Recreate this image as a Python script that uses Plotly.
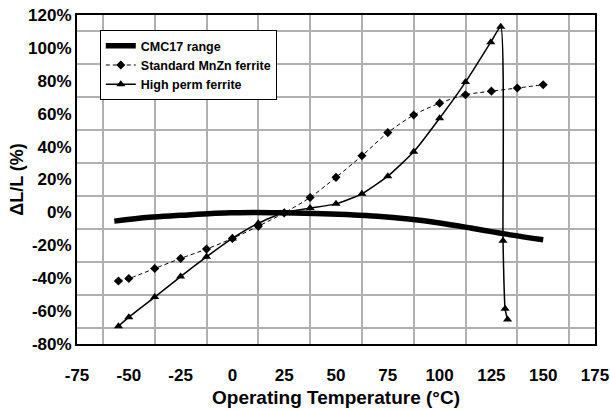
import plotly.graph_objects as go

# CMC17 range
cmc_t = [-57, -40, -25, -10, 0, 10, 25, 40, 55, 70, 85, 100, 115, 125, 135, 150]
cmc_v = [-5.3, -3.0, -1.8, -0.6, -0.2, 0.0, -0.2, -0.6, -1.3, -2.3, -4.0, -6.4, -9.5, -11.7, -13.8, -16.6]

# Standard MnZn ferrite
std_t = [-55, -50, -37.5, -25, -12.5, 0, 12.5, 25, 37.5, 50, 62.5, 75, 87.5, 100, 112.5, 125, 137.5, 150]
std_v = [-41.7, -40.2, -34.1, -28.0, -22.3, -15.8, -8.4, -0.3, 9.1, 21.3, 34.4, 48.5, 59.2, 66.4, 71.5, 73.7, 75.6, 77.6]

# High perm ferrite
hp_t = [-55, -50, -37.5, -25, -12.5, 0, 12.5, 25, 37.5, 50, 62.5, 75, 87.5, 100, 112.5, 124.7, 129.5, 130.6, 131.6, 132.8]
hp_v = [-69.2, -63.7, -51.5, -39.0, -27.0, -15.8, -6.6, 0.0, 2.6, 5.2, 11.3, 22.0, 36.8, 57.2, 79.2, 103.5, 112.9, -17.2, -58.6, -65.1]

x_ticks = [-75, -50, -25, 0, 25, 50, 75, 100, 125, 150, 175]
y_ticks = [-80, -60, -40, -20, 0, 20, 40, 60, 80, 100, 120]

FONT = "Liberation Sans, Arial, sans-serif"

fig = go.Figure()
fig.add_trace(go.Scatter(
    x=cmc_t, y=cmc_v, name="CMC17 range", mode="lines",
    line=dict(color="black", width=5.5, shape="spline", smoothing=1.0),
))
fig.add_trace(go.Scatter(
    x=std_t, y=std_v, name="Standard MnZn ferrite", mode="lines+markers",
    line=dict(color="black", width=1, dash="4px,3px", shape="spline", smoothing=0.8),
    marker=dict(symbol="diamond", size=7, color="black"),
))
fig.add_trace(go.Scatter(
    x=hp_t, y=hp_v, name="High perm ferrite", mode="lines+markers",
    line=dict(color="black", width=1.5, shape="spline", smoothing=0.5),
    marker=dict(symbol="triangle-up", size=8, color="black"),
))

grid_color = "#b0b0b0"
fig.update_xaxes(
    range=[-75, 175], tickvals=x_ticks, ticktext=[str(v) for v in x_ticks],
    showgrid=False, zeroline=False, automargin=False,
    showline=True, linecolor="black", linewidth=2, mirror=True,
    ticks="", ticklabelstandoff=15, ticklabeloverflow="allow",
    tickfont=dict(family=FONT, size=17, color="black", weight="bold"),
    minor=dict(tick0=-62.5, dtick=25, showgrid=True, gridcolor=grid_color, gridwidth=1.5, ticks=""),
    title=dict(text="Operating Temperature (°C)", standoff=6,
               font=dict(family=FONT, size=19, color="black", weight="bold")),
)
fig.update_yaxes(
    range=[-80, 120], tickvals=y_ticks, ticktext=[f"{v}%" for v in y_ticks],
    showgrid=False, zeroline=False, automargin=False,
    showline=True, linecolor="black", linewidth=2, mirror=True,
    ticks="", ticklabelstandoff=0, ticklabeloverflow="allow",
    tickfont=dict(family=FONT, size=17, color="black", weight="bold"),
    minor=dict(tick0=-70, dtick=20, showgrid=True, gridcolor=grid_color, gridwidth=1.5, ticks=""),
    title=dict(text="ΔL/L (%)", standoff=0,
               font=dict(family=FONT, size=18, color="black", weight="bold")),
)
fig.update_layout(
    width=610, height=410,
    margin=dict(l=77, r=15, t=15, b=66),
    paper_bgcolor="white", plot_bgcolor="white",
    showlegend=True,
    legend=dict(
        x=0.044, y=0.954, xanchor="left", yanchor="top",
        bgcolor="white", bordercolor="black", borderwidth=1,
        font=dict(family=FONT, size=12.5, color="black", weight="bold"),
        tracegroupgap=0, itemwidth=30,
    ),
)
fig.write_html("out.html", config={"displayModeBar": False},
               post_script="document.body.style.margin='0px';")
